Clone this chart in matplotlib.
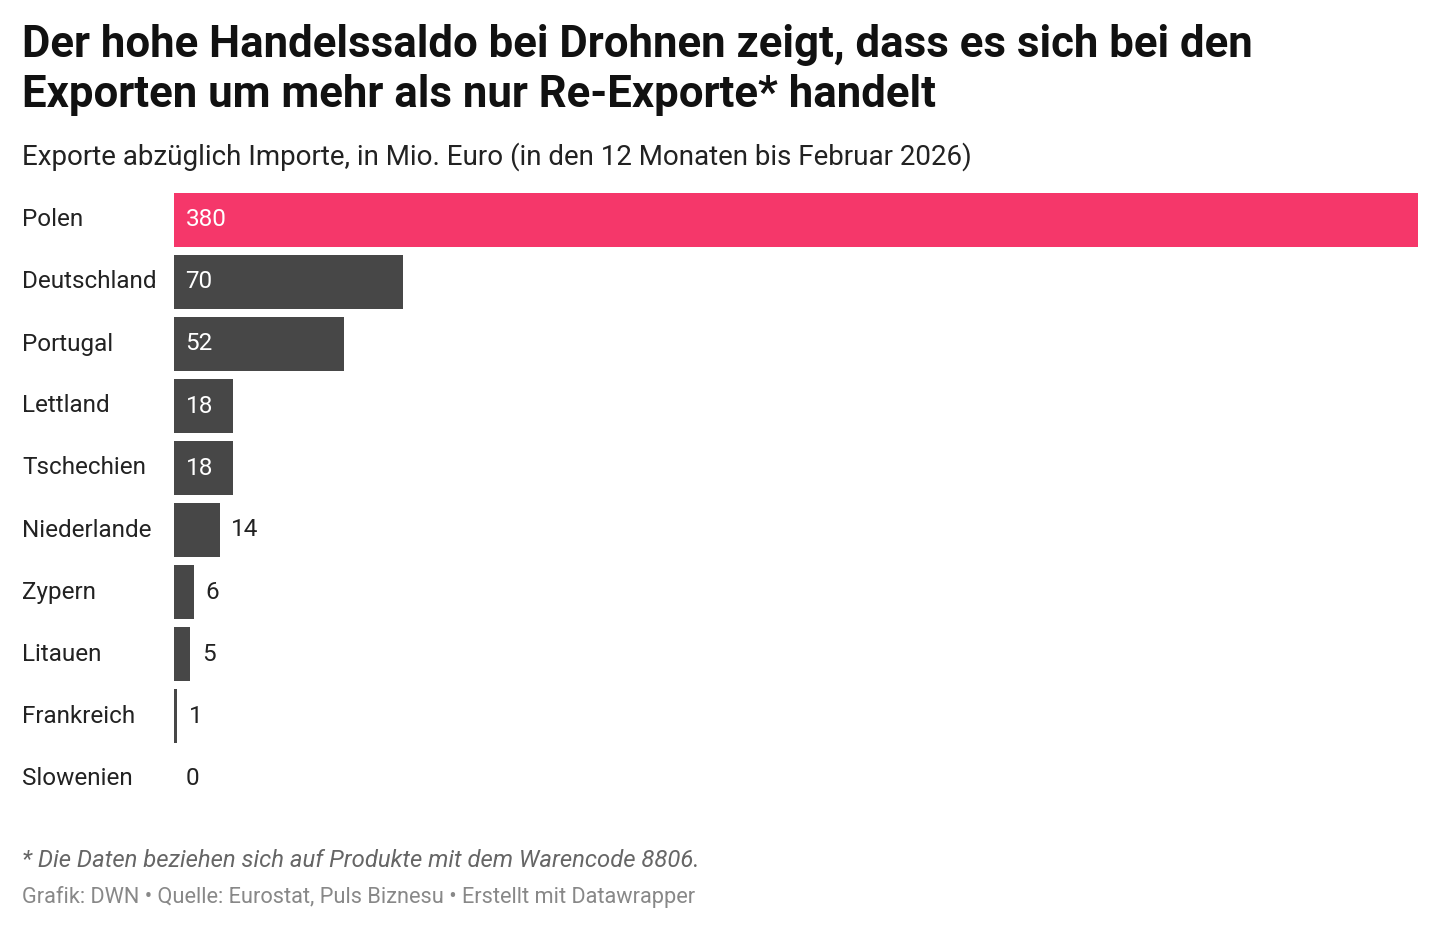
import matplotlib
matplotlib.use("Agg")
import matplotlib.pyplot as plt

plt.rcParams["font.family"] = ["Roboto", "DejaVu Sans"]

countries = ["Polen", "Deutschland", "Portugal", "Lettland", "Tschechien",
             "Niederlande", "Zypern", "Litauen", "Frankreich", "Slowenien"]
values = [380, 70, 52, 18, 18, 14, 6, 5, 1, 0]
highlight = "Polen"

W, H = 1440, 930
fig = plt.figure(figsize=(W / 100, H / 100), dpi=100)

# axes in pixel coordinates of the reference
left, right, top, bottom = 174, 1418, 189, 809
ax = fig.add_axes([left / W, 1 - bottom / H, (right - left) / W, (bottom - top) / H])
ax.set_xlim(0, 380)
ax.set_ylim(len(countries) - 0.5, -0.5)
ax.axis("off")

for i, (name, v) in enumerate(zip(countries, values)):
    color = "#f5376a" if name == highlight else "#474747"
    ax.barh(i, v, height=0.86, color=color, left=0)
    if v >= 18:
        ax.text(3.5, i, str(v), color="white", va="center", ha="left", fontsize=17.5)
    else:
        ax.text(v + 3.5, i, str(v), color="#222222", va="center", ha="left", fontsize=17.5)
    fig.text(22 / W, 1 - (220 + 62 * i) / H, name, va="center", ha="left",
             fontsize=17.5, color="#222222")

fig.text(22 / W, 1 - 45 / H, "Der hohe Handelssaldo bei Drohnen zeigt, dass es sich bei den",
         fontsize=31.5, fontweight="bold", va="center", color="#111111")
fig.text(22 / W, 1 - 95 / H, "Exporten um mehr als nur Re-Exporte* handelt",
         fontsize=31.5, fontweight="bold", va="center", color="#111111")
fig.text(22 / W, 1 - 157 / H,
         "Exporte abzüglich Importe, in Mio. Euro (in den 12 Monaten bis Februar 2026)",
         fontsize=20, va="center", color="#222222")
fig.text(22 / W, 1 - 860 / H,
         "* Die Daten beziehen sich auf Produkte mit dem Warencode 8806.",
         fontsize=17.2, style="italic", va="center", color="#666666")
fig.text(22 / W, 1 - 897 / H,
         "Grafik: DWN • Quelle: Eurostat, Puls Biznesu • Erstellt mit Datawrapper",
         fontsize=15.7, va="center", color="#888888")

fig.savefig("out.png", dpi=100)
